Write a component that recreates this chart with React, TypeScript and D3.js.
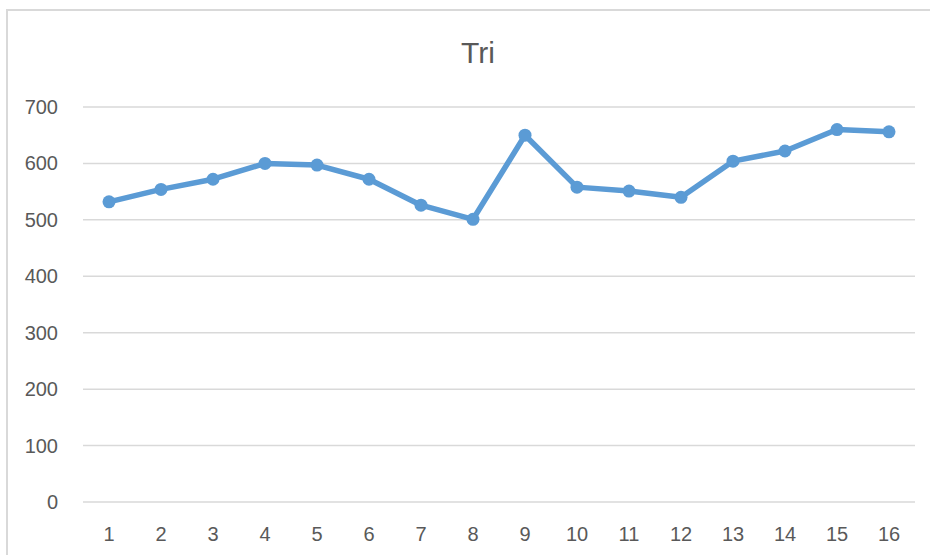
import React, { useRef, useEffect } from 'react';
import * as d3 from 'd3';

const categories = ['1', '2', '3', '4', '5', '6', '7', '8', '9', '10', '11', '12', '13', '14', '15', '16'];
const values = [532, 554, 572, 600, 597, 572, 526, 501, 650, 558, 551, 540, 604, 622, 660, 656];
const yTicks = [0, 100, 200, 300, 400, 500, 600, 700];
const title = 'Tri';

const W = 930;
const H = 555;

const LineChart = () => {
    const svgRef = useRef<SVGSVGElement>(null);

    useEffect(() => {
        const svg = d3.select(svgRef.current);
        svg.selectAll('*').remove();

        const left = 83, right = 915, top = 107, bottom = 502;
        const font = "'Liberation Sans', Arial, sans-serif";

        const x = d3.scaleBand().domain(categories).range([left, right]);
        const y = d3.scaleLinear().domain([0, 700]).range([bottom, top]);

        svg.append('rect').attr('width', W).attr('height', H).attr('fill', '#fff');

        // chart area border (only top + left visible in the crop)
        svg.append('path')
            .attr('d', `M7,${H} L7,10 L${W},10`)
            .attr('fill', 'none')
            .attr('stroke', '#d9d9d9')
            .attr('stroke-width', 2);

        svg.append('text')
            .attr('x', 478).attr('y', 63)
            .attr('text-anchor', 'middle')
            .style('font-family', font)
            .style('font-size', '30px')
            .attr('fill', '#595959')
            .text(title);

        // gridlines
        svg.append('g').selectAll('line')
            .data(yTicks)
            .enter().append('line')
            .attr('x1', left).attr('x2', right)
            .attr('y1', d => y(d)).attr('y2', d => y(d))
            .attr('stroke', '#d9d9d9')
            .attr('stroke-width', 1.5);

        // y labels
        svg.append('g').selectAll('text')
            .data(yTicks)
            .enter().append('text')
            .attr('x', 58).attr('y', d => y(d))
            .attr('dy', '0.35em')
            .attr('text-anchor', 'end')
            .style('font-family', font)
            .style('font-size', '20px')
            .attr('fill', '#595959')
            .text(d => d);

        // x labels
        svg.append('g').selectAll('text')
            .data(categories)
            .enter().append('text')
            .attr('x', d => x(d)! + x.bandwidth() / 2)
            .attr('y', 541)
            .attr('text-anchor', 'middle')
            .style('font-family', font)
            .style('font-size', '20px')
            .attr('fill', '#595959')
            .text(d => d);

        const line = d3.line<number>()
            .x((d, i) => x(categories[i])! + x.bandwidth() / 2)
            .y(d => y(d));

        svg.append('path')
            .datum(values)
            .attr('d', line)
            .attr('fill', 'none')
            .attr('stroke', '#5b9bd5')
            .attr('stroke-width', 5.5)
            .attr('stroke-linejoin', 'round');

        svg.append('g').selectAll('circle')
            .data(values)
            .enter().append('circle')
            .attr('cx', (d, i) => x(categories[i])! + x.bandwidth() / 2)
            .attr('cy', d => y(d))
            .attr('r', 6.5)
            .attr('fill', '#5b9bd5');
    }, []);

    return <svg ref={svgRef} width={W} height={H} style={{ display: 'block' }}></svg>;
};

export default function App() {
    return (
        <div style={{ position: 'absolute', left: 0, top: 0 }}>
            <LineChart />
        </div>
    );
}
